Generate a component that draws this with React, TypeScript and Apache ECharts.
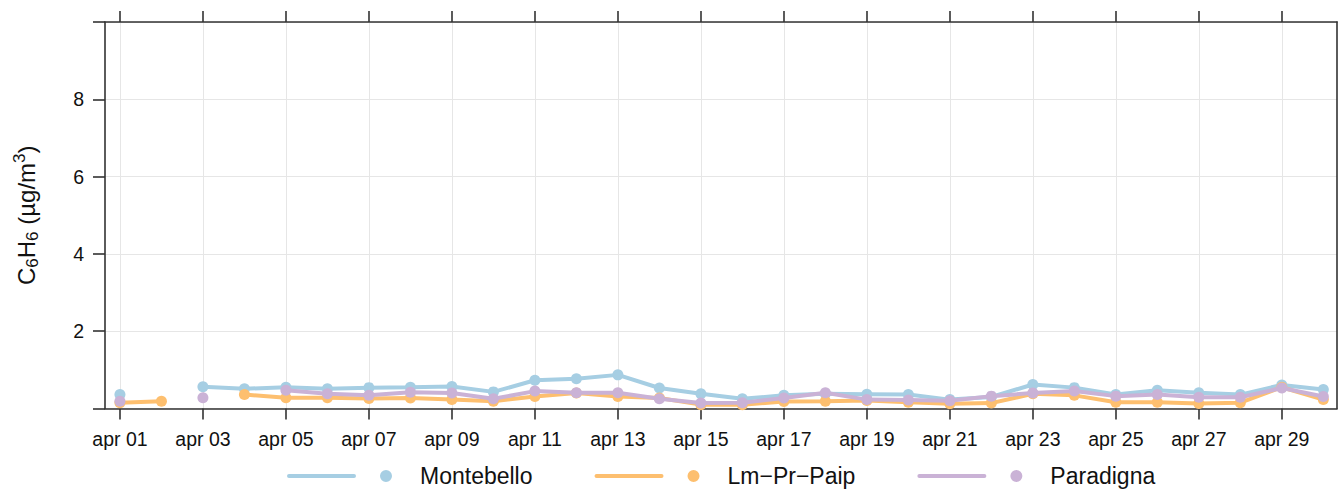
import React, { useEffect, useRef } from "react";
import * as echarts from "echarts";

const dayLabels = [
  "apr 01", "apr 02", "apr 03", "apr 04", "apr 05", "apr 06", "apr 07", "apr 08", "apr 09", "apr 10",
  "apr 11", "apr 12", "apr 13", "apr 14", "apr 15", "apr 16", "apr 17", "apr 18", "apr 19", "apr 20",
  "apr 21", "apr 22", "apr 23", "apr 24", "apr 25", "apr 26", "apr 27", "apr 28", "apr 29", "apr 30",
];
const xTickIdx = [0, 2, 4, 6, 8, 10, 12, 14, 16, 18, 20, 22, 24, 26, 28];
const yTicks = [2, 4, 6, 8];

const montebello = [0.36, null, 0.56, 0.51, 0.55, 0.51, 0.54, 0.55, 0.57, 0.43, 0.73, 0.77, 0.87, 0.53, 0.38,
  0.25, 0.34, 0.38, 0.37, 0.36, 0.23, 0.30, 0.62, 0.54, 0.36, 0.47, 0.41, 0.36, 0.61, 0.49];
const lmPrPaip = [0.15, 0.19, null, 0.36, 0.28, 0.28, 0.26, 0.27, 0.23, 0.19, 0.31, 0.40, 0.31, 0.27, 0.10,
  0.10, 0.18, 0.19, 0.21, 0.16, 0.12, 0.14, 0.38, 0.34, 0.16, 0.16, 0.13, 0.15, 0.55, 0.23];
const paradigna = [0.19, null, 0.28, null, 0.47, 0.38, 0.34, 0.42, 0.40, 0.25, 0.45, 0.41, 0.41, 0.25, 0.14,
  0.15, 0.27, 0.41, 0.23, 0.22, 0.20, 0.32, 0.40, 0.45, 0.32, 0.36, 0.29, 0.29, 0.53, 0.31];

const seriesNames = ["Montebello", "Lm\u2212Pr\u2212Paip", "Paradigna"];
const seriesColors = ["#a6cee3", "#fdbf6f", "#cab2d6"];
const seriesValues = [montebello, lmPrPaip, paradigna];

const FONT = "'Liberation Sans', Arial, Helvetica, sans-serif";
const legendIcon =
  "path://M2,4 L67,4 A2,2 0 0 1 67,8 L2,8 A2,2 0 0 1 2,4 Z M93,6 A6,6 0 1 1 105,6 A6,6 0 1 1 93,6 Z";

export default function App() {
  const ref = useRef<HTMLDivElement>(null);
  useEffect(() => {
    document.body.style.margin = "0";
    const chart = echarts.init(ref.current!, null, { renderer: "svg" });
    const axisLineStyle = { color: "#333", width: 1.6 };
    const xMin = -0.36;
    const xMax = 29.33;
    chart.setOption({
      animation: false,
      backgroundColor: "#fff",
      textStyle: { fontFamily: FONT },
      grid: { left: 105, right: 3, top: 22, bottom: 82.5 },
      legend: {
        top: 458,
        left: 282,
        icon: legendIcon,
        itemWidth: 105,
        itemHeight: 12,
        itemGap: 62,
        textStyle: { fontSize: 23, lineHeight: 26, color: "#111", fontFamily: FONT, padding: [0, 0, 0, 23] },
        data: seriesNames.map((n) => ({ name: n })),
      },
      xAxis: [
        {
          type: "value",
          min: xMin,
          max: xMax,
          position: "bottom",
          axisLine: { show: true, onZero: false, lineStyle: axisLineStyle },
          axisTick: { show: true, length: 11, customValues: xTickIdx, lineStyle: axisLineStyle },
          axisLabel: {
            customValues: xTickIdx,
            formatter: (v: number) => dayLabels[Math.round(v)] ?? "",
            fontSize: 19.5,
            color: "#111",
            margin: 20,
            fontFamily: FONT,
          },
          splitLine: { show: true, lineStyle: { color: "#e6e6e6", width: 1 } },
        },
        {
          type: "value",
          min: xMin,
          max: xMax,
          position: "top",
          axisLine: { show: true, onZero: false, lineStyle: axisLineStyle },
          axisTick: { show: true, length: 11, customValues: xTickIdx, lineStyle: axisLineStyle },
          axisLabel: { show: false },
          splitLine: { show: false },
        },
      ],
      yAxis: [
        {
          type: "value",
          min: 0,
          max: 10,
          interval: 2,
          position: "left",
          axisLine: { show: true, onZero: false, lineStyle: axisLineStyle },
          axisTick: { show: true, length: 12, lineStyle: axisLineStyle },
          axisLabel: {
            fontSize: 19.5,
            color: "#111",
            margin: 21,
            fontFamily: FONT,
            formatter: (v: number) => (yTicks.includes(v) ? String(v) : ""),
          },
          splitLine: { show: true, lineStyle: { color: "#e6e6e6", width: 1 } },
          name: "C{sub|6}H{sub|6} (\u00b5g/m{sup|3})",
          nameLocation: "middle",
          nameGap: 64,
          nameTextStyle: {
            fontSize: 24,
            lineHeight: 30,
            color: "#111",
            fontFamily: FONT,
            rich: {
              sub: { fontSize: 17, lineHeight: 16, verticalAlign: "bottom", color: "#111", fontFamily: FONT },
              sup: { fontSize: 17, lineHeight: 16, verticalAlign: "top", color: "#111", fontFamily: FONT },
            },
          },
        },
        {
          type: "value",
          min: 0,
          max: 10,
          position: "right",
          axisLine: { show: true, onZero: false, lineStyle: axisLineStyle },
          axisTick: { show: false },
          axisLabel: { show: false },
          splitLine: { show: false },
        },
      ],
      series: seriesNames.map((name, k) => ({
        name,
        type: "line",
        xAxisIndex: 0,
        yAxisIndex: 0,
        data: seriesValues[k].map((v, i) => [i, v]),
        connectNulls: false,
        symbol: "circle",
        symbolSize: 11,
        showSymbol: true,
        itemStyle: { color: seriesColors[k] },
        lineStyle: { color: seriesColors[k], width: 4 },
        emphasis: { disabled: true },
        z: 2 + k,
      })),
    });
    return () => chart.dispose();
  }, []);
  return (
    <div
      ref={ref}
      style={{ position: "absolute", left: 0, top: 0, width: 1340, height: 491 }}
    />
  );
}
